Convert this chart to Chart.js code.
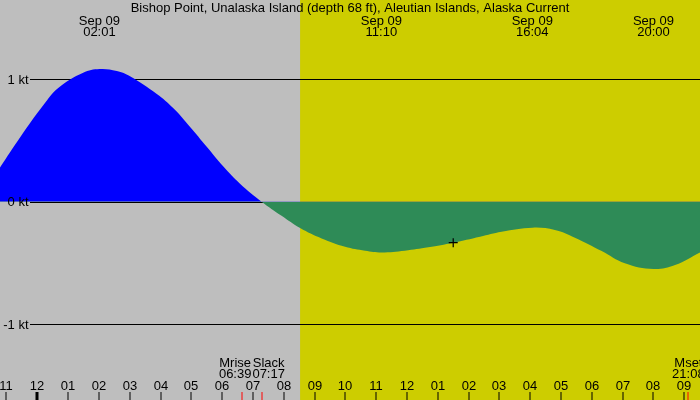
<!DOCTYPE html>
<html>
<head>
<meta charset="utf-8">
<script src="https://cdn.jsdelivr.net/npm/chart.js@4"></script>
<style>
  html, body { margin: 0; padding: 0; background: #bebebe; }
  #wrap { width: 700px; height: 400px; }
</style>
</head>
<body>
<div id="wrap"><canvas id="myChart" width="700" height="400"></canvas></div>
<script>
// dane - godziny liczone od polnocy 9 wrzesnia
const hours = [-1.21, -0.56, 0.20, 0.68, 1.49, 2.02, 2.58, 3.01, 3.88, 4.41, 4.96, 5.50, 6.04, 6.58, 7.28,
  7.93, 8.53, 9.23, 9.99, 10.64, 11.17, 11.93, 12.69, 13.50, 14.37, 15.07, 16.07, 16.80, 17.45,
  18.32, 19.07, 20.00, 20.70, 21.51];
const knots = [0.28, 0.525, 0.79, 0.93, 1.054, 1.084, 1.068, 1.025, 0.88, 0.765, 0.611, 0.449, 0.287, 0.147, 0,
  -0.115, -0.215, -0.30, -0.368, -0.40, -0.414, -0.40, -0.373, -0.335, -0.286, -0.245, -0.212, -0.231, -0.294,
  -0.403, -0.503, -0.55, -0.517, -0.414];

// znacznik "teraz"
const nowHour = [13.5];
const nowKnots = [-0.335];

// ekstrema na gorze
const eventHours = [2.017, 11.167, 16.067, 20.0];
const eventDates = ["Sep 09", "Sep 09", "Sep 09", "Sep 09"];
const eventTimes = ["02:01", "11:10", "16:04", "20:00"];

// zdarzenia na dole (ksiezyc, slack)
const markHours = [6.65, 7.283, 21.133];
const markNames = ["Mrise", "Slack", "Mset"];
const markTimes = ["06:39", "07:17", "21:08"];
const markShift = [-7, 7, 0];

const sunrise = 8.53;

const hourTicks = [-1, 0, 1, 2, 3, 4, 5, 6, 7, 8, 9, 10, 11, 12, 13, 14, 15, 16, 17, 18, 19, 20, 21];
const hourLabels = ["11", "12", "01", "02", "03", "04", "05", "06", "07", "08", "09", "10",
  "11", "12", "01", "02", "03", "04", "05", "06", "07", "08", "09"];

const levelTicks = [1, 0, -1];
const levelLabels = ["1 kt", "0 kt", "-1 kt"];

const title = "Bishop Point, Unalaska Island (depth 68 ft), Aleutian Islands, Alaska Current";

const FONT = '13px "Liberation Sans", Arial, sans-serif';

// tlo dzien / noc + linie poziomu
const backPlugin = {
  id: "back",
  beforeDatasetsDraw(chart) {
    const ctx = chart.ctx;
    const x = chart.scales.x;
    const y = chart.scales.y;
    const a = chart.chartArea;
    const sx = x.getPixelForValue(sunrise);
    ctx.save();
    ctx.fillStyle = "#bebebe";
    ctx.fillRect(a.left, a.top, sx - a.left, a.bottom - a.top);
    ctx.fillStyle = "#cdcd00";
    ctx.fillRect(sx, a.top, a.right - sx, a.bottom - a.top);
    ctx.strokeStyle = "#000";
    ctx.lineWidth = 1;
    levelTicks.forEach(v => {
      const py = Math.round(y.getPixelForValue(v)) + 0.5;
      ctx.beginPath();
      ctx.moveTo(30, py);
      ctx.lineTo(a.right, py);
      ctx.stroke();
    });
    ctx.restore();
  },
  afterDatasetsDraw(chart) {
    const ctx = chart.ctx;
    const x = chart.scales.x;
    const y = chart.scales.y;
    ctx.save();
    ctx.font = FONT;
    ctx.fillStyle = "#000";
    ctx.textBaseline = "alphabetic";

    // tytul
    ctx.textAlign = "center";
    ctx.fillText(title, 350, 11.5);

    // opisy ekstremow
    eventHours.forEach((h, i) => {
      const px = x.getPixelForValue(h);
      ctx.fillText(eventDates[i], px, 24.5);
      ctx.fillText(eventTimes[i], px, 36);
    });

    // etykiety kt
    ctx.textAlign = "right";
    levelTicks.forEach((v, i) => {
      ctx.fillText(levelLabels[i], 28.5, y.getPixelForValue(v) + 4.5);
    });

    // godziny
    ctx.textAlign = "center";
    hourTicks.forEach((h, i) => {
      const px = Math.round(x.getPixelForValue(h));
      ctx.fillText(hourLabels[i], px, 390);
      if (h === 0) {
        ctx.fillRect(px - 1.5, 392, 3, 8);
      } else {
        ctx.fillRect(px - 0.5, 392, 1, 8);
      }
    });

    // ksiezyc i slack
    markHours.forEach((h, i) => {
      const px = x.getPixelForValue(h);
      ctx.fillStyle = "#000";
      ctx.fillText(markNames[i], px + markShift[i], 366.5);
      ctx.fillText(markTimes[i], px + markShift[i], 377.5);
      ctx.fillStyle = "#ff0000";
      ctx.fillRect(Math.round(px) - 0.5, 392, 1, 8);
    });
    ctx.restore();
  }
};

var ctx = document.getElementById("myChart").getContext("2d");
var chart = new Chart(ctx, {
  type: "line",
  data: {
    datasets: [
      {
        label: "Current",
        data: hours.map((h, i) => ({ x: h, y: knots[i] })),
        order: 2,
        borderWidth: 0,
        borderColor: "rgba(0,0,0,0)",
        pointRadius: 0,
        tension: 0.4,
        fill: { target: "origin", above: "#0000ff", below: "#2e8b57" }
      },
      {
        label: "Now",
        data: nowHour.map((h, i) => ({ x: h, y: nowKnots[i] })),
        order: 1,
        showLine: false,
        pointStyle: "cross",
        pointRadius: 4.5,
        borderColor: "#000",
        borderWidth: 1.2
      }
    ]
  },
  options: {
    responsive: false,
    animation: false,
    layout: { padding: 0, autoPadding: false },
    plugins: {
      legend: { display: false },
      tooltip: { enabled: false },
      title: { display: false }
    },
    scales: {
      x: { type: "linear", min: -1.21, max: 21.51, display: false },
      y: { type: "linear", min: -1.62, max: 1.648, display: false }
    }
  },
  plugins: [backPlugin]
});
</script>
</body>
</html>
